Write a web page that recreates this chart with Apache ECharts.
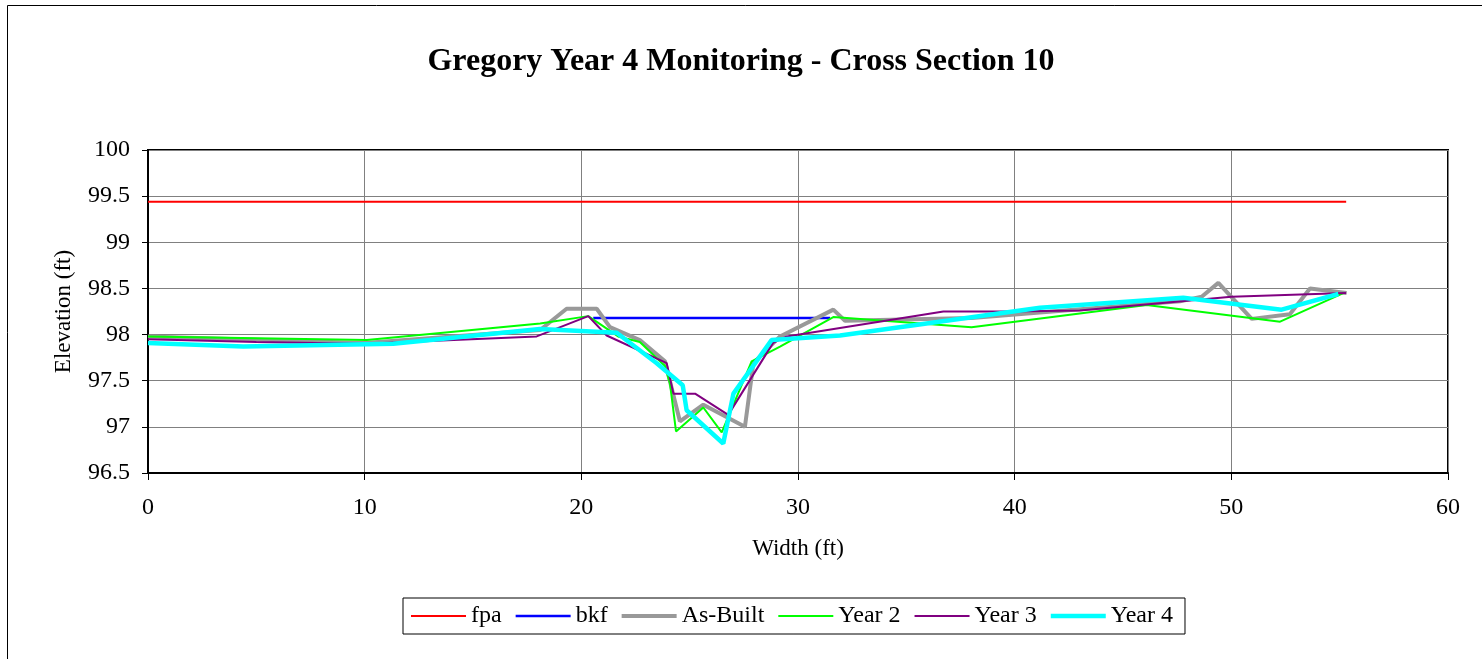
<!DOCTYPE html>
<html>
<head>
<meta charset="utf-8">
<script src="https://cdn.jsdelivr.net/npm/echarts@6/dist/echarts.min.js"></script>
<style>
  html, body { margin: 0; padding: 0; background: #fff; }
  #chart { width: 1482px; height: 659px; }
</style>
</head>
<body>
<div id="chart"></div>
<script>
// Cross-section survey: width (ft) vs elevation (ft)
const fpaX = [0, 55.3];
const fpaY = [99.44, 99.44];

const bkfX = [20.55, 31.48];
const bkfY = [98.18, 98.18];

const asBuiltX = [0, 10, 18.1, 19.32, 20.71, 21.32, 22.7, 23.86, 24.55, 25.63, 27.55, 27.94, 29.17, 31.63, 32.17, 38, 47.63, 48.63, 49.4, 50.94, 52.7, 53.63, 55.32];
const asBuiltY = [97.98, 97.91, 98.05, 98.28, 98.28, 98.08, 97.94, 97.71, 97.06, 97.24, 97.0, 97.69, 97.98, 98.27, 98.15, 98.18, 98.36, 98.41, 98.56, 98.17, 98.22, 98.5, 98.45];

const year2X = [0, 10.1, 18.1, 20.32, 21.7, 22.7, 23.86, 24.09, 24.37, 25.63, 26.48, 27.86, 29.17, 31.63, 38.01, 46.09, 52.25, 55.17];
const year2Y = [97.98, 97.94, 98.12, 98.2, 97.98, 97.92, 97.66, 97.47, 96.95, 97.21, 96.94, 97.71, 97.87, 98.19, 98.08, 98.32, 98.14, 98.45];

const year3X = [0, 5, 10, 17.94, 20.32, 21.17, 23.94, 24.25, 25.25, 26.78, 28.85, 29.48, 36.71, 39.78, 43.0, 50.0, 55.3];
const year3Y = [97.95, 97.92, 97.9, 97.98, 98.2, 97.99, 97.69, 97.36, 97.36, 97.13, 97.91, 97.98, 98.25, 98.25, 98.26, 98.41, 98.45];

const year4X = [0, 4.4, 11.32, 18.09, 21.63, 23.48, 24.68, 24.86, 26.55, 27.02, 28.78, 31.94, 41.17, 47.78, 52.32, 54.94];
const year4Y = [97.91, 97.87, 97.9, 98.06, 98.02, 97.69, 97.45, 97.18, 96.82, 97.36, 97.94, 97.99, 98.29, 98.4, 98.27, 98.44];

const seriesNames = ['fpa', 'bkf', 'As-Built', 'Year 2', 'Year 3', 'Year 4'];

const xTicks = { min: 0, max: 60, interval: 10 };
const yTicks = { min: 96.5, max: 100, interval: 0.5 };

function pairs(xs, ys) {
  return xs.map((x, i) => [x, ys[i]]);
}

const serif = '"Liberation Serif", "Times New Roman", serif';

const styles = {
  'fpa':      { color: '#ff0000', width: 2 },
  'bkf':      { color: '#0000ff', width: 2.5 },
  'As-Built': { color: '#999999', width: 4 },
  'Year 2':   { color: '#00ff00', width: 2 },
  'Year 3':   { color: '#800080', width: 2 },
  'Year 4':   { color: '#00ffff', width: 4.5 }
};

const ICON_W = 55, ICON_H = 14;

// Legend swatch: a horizontal bar of the series' stroke width, centred in the icon box
function barIcon(w) {
  const a = (ICON_H - w) / 2, b = (ICON_H + w) / 2;
  return 'path://M0,0 L0,0 M0,' + a + ' L' + ICON_W + ',' + a + ' L' + ICON_W + ',' + b +
         ' L0,' + b + ' Z M0,' + ICON_H + ' L0,' + ICON_H;
}

function lineSeries(name, xs, ys) {
  const s = styles[name];
  return {
    name: name,
    type: 'line',
    data: pairs(xs, ys),
    symbol: 'none',
    showSymbol: false,
    animation: false,
    lineStyle: { color: s.color, width: s.width },
    itemStyle: { color: s.color }
  };
}

const chart = echarts.init(document.getElementById('chart'), null, { renderer: 'canvas' });

chart.setOption({
  backgroundColor: '#fff',
  animation: false,
  graphic: [{
    type: 'rect',
    shape: { x: 7.5, y: 5.5, width: 1520, height: 720 },
    style: { fill: 'none', stroke: '#000', lineWidth: 1 },
    silent: true,
    z: -1
  }],
  title: {
    text: 'Gregory Year 4 Monitoring - Cross Section 10',
    left: 'center',
    top: 41,
    textStyle: { fontFamily: serif, fontWeight: 'bold', fontSize: 32, color: '#000' }
  },
  grid: {
    left: 148, top: 150, width: 1300, height: 323,
    show: true, borderColor: '#000', borderWidth: 2, backgroundColor: 'transparent'
  },
  xAxis: {
    type: 'value',
    min: xTicks.min, max: xTicks.max, interval: xTicks.interval,
    name: 'Width (ft)',
    nameLocation: 'middle',
    nameGap: 64,
    nameTextStyle: { fontFamily: serif, fontSize: 23, color: '#000' },
    axisLine: { show: true, onZero: false, lineStyle: { color: '#000', width: 2 } },
    axisTick: { show: true, length: 7, lineStyle: { color: '#000' } },
    axisLabel: { fontFamily: serif, fontSize: 24, color: '#000', margin: 23 },
    splitLine: { show: true, lineStyle: { color: '#808080', width: 1 } }
  },
  yAxis: {
    type: 'value',
    min: yTicks.min, max: yTicks.max, interval: yTicks.interval,
    name: 'Elevation (ft)',
    nameLocation: 'middle',
    nameGap: 73,
    nameTextStyle: { fontFamily: serif, fontSize: 23, color: '#000' },
    axisLine: { show: true, onZero: false, lineStyle: { color: '#000', width: 2 } },
    axisTick: { show: true, length: 6, lineStyle: { color: '#000' } },
    axisLabel: { fontFamily: serif, fontSize: 24, color: '#000', margin: 18 },
    splitLine: { show: true, lineStyle: { color: '#808080', width: 1 } }
  },
  legend: {
    left: 403,
    top: 598,
    orient: 'horizontal',
    padding: [6, 12, 6, 8],
    itemGap: 14,
    itemWidth: ICON_W,
    itemHeight: ICON_H,
    borderColor: '#000',
    borderWidth: 1,
    borderRadius: 0,
    itemStyle: { borderWidth: 0 },
    textStyle: { fontFamily: serif, fontSize: 24, color: '#000' },
    data: seriesNames.map(n => ({ name: n, icon: barIcon(styles[n].width) }))
  },
  series: [
    lineSeries('fpa', fpaX, fpaY),
    lineSeries('bkf', bkfX, bkfY),
    lineSeries('As-Built', asBuiltX, asBuiltY),
    lineSeries('Year 2', year2X, year2Y),
    lineSeries('Year 3', year3X, year3Y),
    lineSeries('Year 4', year4X, year4Y)
  ]
});
</script>
</body>
</html>
